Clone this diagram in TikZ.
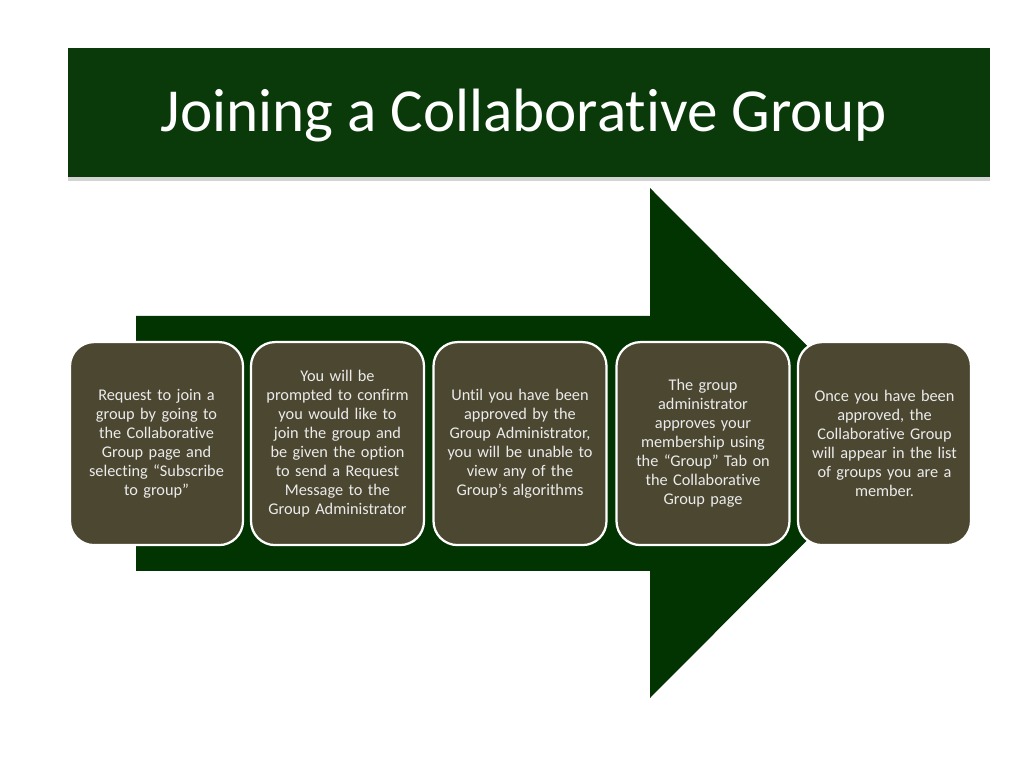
\documentclass[tikz,border=0pt]{standalone}
\usepackage{fontspec}
\setmainfont[Ligatures=NoCommon]{Carlito}
\usetikzlibrary{shadows}
\definecolor{titlegreen}{RGB}{11,58,10}
\definecolor{arrowgreen}{RGB}{2,52,2}
\definecolor{boxolive}{RGB}{76,71,49}

\begin{document}
\begin{tikzpicture}[
titlebar/.style={rectangle, fill=titlegreen, minimum width=23.05cm, minimum height=3.225cm, inner sep=0pt, text=white, font=\fontsize{43.5}{48}\selectfont, drop shadow={opacity=0.35, shadow xshift=0pt, shadow yshift=-3pt}},
roundbox/.style={rectangle, rounded corners=0.6cm, draw=white, line width=1.6pt, fill=boxolive, minimum width=4.325cm, minimum height=5.075cm, text width=4.2cm, align=center, inner sep=1pt, text=white!92!black, font=\fontsize{11.6}{13.5}\selectfont}
]
    \useasboundingbox (0,0) rectangle (25.6,19.2);

    \node [titlebar] (title) at (13.225,16.39) {};
    \node [text=white, font=\fontsize{43.5}{48}\selectfont] (titletext) at (13.1,16.3) {Joining a Collaborative Group};

    % big arrow behind the boxes
    \fill [arrowgreen] (3.4,11.3) -- (16.25,11.3) -- (16.25,14.5) -- (22.6,8.125)
        -- (16.25,1.75) -- (16.25,4.925) -- (3.4,4.925) -- cycle;

    \node [roundbox] (s1) at (3.9125,8.11) {Request to join a\\ group by going to\\ the Collaborative\\ Group page and\\ selecting “Subscribe\\ to group”};
    \node [roundbox] (s2) at (8.4375,8.11) {You will be\\ prompted to confirm\\ you would like to\\ join the group and\\ be given the option\\ to send a Request\\ Message to the\\ Group Administrator};
    \node [roundbox] (s3) at (13.0,8.11) {Until you have been\\ approved by the\\ Group Administrator,\\ you will be unable to\\ view any of the\\ Group’s algorithms};
    \node [roundbox] (s4) at (17.575,8.11) {The group\\ administrator\\ approves your\\ membership using\\ the “Group” Tab on\\ the Collaborative\\ Group page};
    \node [roundbox] (s5) at (22.1125,8.11) {Once you have been\\ approved, the\\ Collaborative Group\\ will appear in the list\\ of groups you are a\\ member.};
\end{tikzpicture}
\end{document}
